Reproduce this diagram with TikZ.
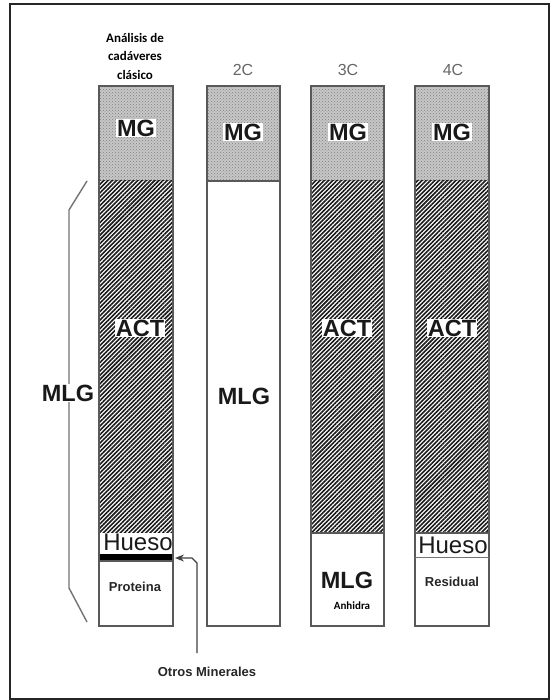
\documentclass[tikz,border=0pt]{standalone}
\usepackage{fontspec}
\setmainfont{Liberation Sans}
\newfontfamily\carl{Carlito}
\usetikzlibrary{patterns,patterns.meta,arrows.meta}
\begin{document}
\begin{tikzpicture}[x=1pt,y=-1pt,
  colbox/.style={draw=black!65,line width=1.4pt},
  mgbase/.style={fill=black!22},
  mgdots/.style={pattern=crosshatch dots,pattern color=black!50},
  hatch/.style={pattern={Lines[angle=45,distance=3pt,line width=1.6pt]},pattern color=black!90},
  biglbl/.style={font=\bfseries\fontsize{23.5}{25}\selectfont,text=black!90,fill=white,inner sep=1pt},
  hueso/.style={font=\fontsize{24}{26}\selectfont,text=black!90,inner sep=0pt},
  smalllbl/.style={font=\bfseries\fontsize{13}{15}\selectfont,text=black!85,inner sep=1pt},
  ctitle/.style={font=\fontsize{16}{18}\selectfont,text=black!60},
  brace/.style={draw=black!55,line width=1.4pt}
]
\useasboundingbox (0,0) rectangle (551,700);
\draw[black!85,line width=1.5pt] (10,4) rectangle (549,699);

% column titles
\node[font=\carl\bfseries\fontsize{13}{18.5}\selectfont,align=center] (t1) at (135,56) {Análisis de\\cadáveres\\clásico};
\node[ctitle] (t2) at (243,70) {2C};
\node[ctitle] (t3) at (348,70) {3C};
\node[ctitle] (t4) at (453,70) {4C};

% MG blocks
\foreach \xa/\xb in {99/173,207/280,311/384,415/489}{
  \fill[mgbase] (\xa,86) rectangle (\xb,181);
  \fill[mgdots] (\xa,86) rectangle (\xb,181);
}
% hatched ACT blocks
\fill[hatch] (99,181) rectangle (173,532);
\fill[hatch] (311,181) rectangle (384,533);
\fill[hatch] (415,181) rectangle (489,533);

% column 1 details
\fill[black] (99,554) rectangle (173,561);
\draw[colbox] (99,86) rectangle (173,626);
\draw[colbox] (99,561) -- (173,561);
% column 2
\draw[colbox] (207,86) rectangle (280,626);
\draw[colbox] (207,181) -- (280,181);
% column 3
\draw[colbox] (311,86) rectangle (384,626);
\draw[colbox] (311,533) -- (384,533);
% column 4
\draw[colbox] (415,86) rectangle (489,626);
\draw[colbox] (415,533) -- (489,533);
\draw[draw=black!55,line width=1pt] (415,557) -- (489,557);

% MG labels
\node[biglbl] (mg1) at (136,128) {MG};
\node[biglbl] (mg2) at (243,132) {MG};
\node[biglbl] (mg3) at (348,132) {MG};
\node[biglbl] (mg4) at (452,132) {MG};
% ACT labels
\node[biglbl] (act1) at (140,328) {ACT};
\node[biglbl] (act3) at (347,328) {ACT};
\node[biglbl] (act4) at (452,328) {ACT};
% other labels
\node[biglbl] (mlg2) at (244,396) {MLG};
\node[hueso] (hue1) at (138,542) {Hueso};
\node[smalllbl] (prot) at (135,587) {Proteina};
\node[biglbl] (mlg3) at (347,580) {MLG};
\node[font=\carl\bfseries\fontsize{11}{13}\selectfont,inner sep=1pt] (anh) at (352,606) {Anhidra};
\node[hueso] (hue4) at (453,545) {Hueso};
\node[smalllbl] (resid) at (452,582) {Residual};

% brace
\coordinate (bt) at (87,181);
\coordinate (bt2) at (69,210);
\coordinate (bb2) at (69,588);
\coordinate (bb) at (87,622);
\draw[brace] (bt) -- (bt2) -- (bb2) -- (bb);
\node[biglbl] (mlg1) at (68,393) {MLG};

% Otros Minerales arrow
\node[smalllbl] (otros) at (207,672) {Otros Minerales};
\coordinate (as) at (197,653);
\coordinate (ak) at (197,563);
\coordinate (ab) at (192,558);
\coordinate (at) at (175,558);
\draw[black!75,line width=1.2pt,-{Stealth[length=9pt,width=7pt]}] (as) -- (ak) -- (ab) -- (at);
\end{tikzpicture}
\end{document}
